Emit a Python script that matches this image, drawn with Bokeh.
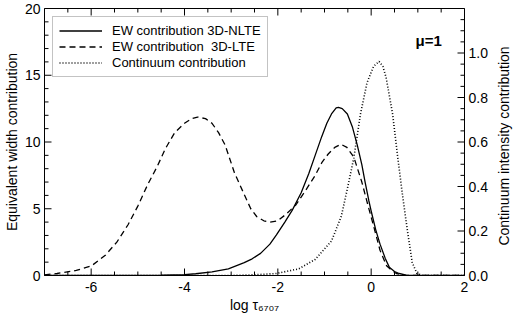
import math
from bokeh.plotting import figure
from bokeh.layouts import row
from bokeh.models import (Range1d, SingleIntervalTicker, PrintfTickFormatter, LinearAxis,
                          Legend, LegendItem, Label, Div)
from bokeh.embed import file_html
from bokeh.resources import INLINE

# ---- data ----
nlte_logtau = [-7.0, -5.0, -4.5, -4.0, -3.76, -3.41, -3.06, -2.72, -2.55, -2.37, -2.17, -2.03,
               -1.85, -1.69, -1.50, -1.34, -1.20, -1.06, -0.95, -0.85, -0.75, -0.70, -0.62,
               -0.51, -0.40, -0.30, -0.20, -0.13, -0.05, 0.01, 0.10, 0.19, 0.30, 0.39, 0.50,
               0.60, 0.75, 0.90, 2.0]
nlte_ew = [0.0, 0.0, 0.02, 0.07, 0.13, 0.27, 0.50, 0.96, 1.25, 1.66, 2.35, 3.05,
           4.0, 4.9, 6.2, 7.6, 9.0, 10.4, 11.4, 12.1, 12.55, 12.6, 12.5,
           12.1, 11.1, 9.8, 8.3, 7.0, 5.6, 4.68, 3.4, 2.35, 1.3, 0.61, 0.3,
           0.15, 0.03, 0.0, 0.0]

lte_logtau = [-7.0, -6.73, -6.32, -5.99, -5.69, -5.45, -5.21, -5.0, -4.79, -4.58, -4.41, -4.21,
              -4.0, -3.85, -3.72, -3.55, -3.41, -3.27, -3.13, -2.93, -2.72, -2.58, -2.45,
              -2.30, -2.17, -2.0, -1.82, -1.61, -1.40, -1.20, -1.05, -0.92, -0.78, -0.65,
              -0.52, -0.37, -0.20, -0.06, 0.05, 0.19, 0.33, 0.45, 0.54, 0.70, 0.90, 2.0]
lte_ew = [0.05, 0.15, 0.38, 0.73, 1.54, 2.5, 3.8, 5.2, 6.8, 8.2, 9.5, 10.7,
          11.4, 11.75, 11.87, 11.75, 11.4, 10.7, 9.78, 7.7, 6.07, 5.0, 4.4,
          4.1, 4.0, 4.1, 4.6, 5.3, 6.4, 7.5, 8.5, 9.1, 9.6, 9.83,
          9.6, 8.85, 7.0, 5.14, 3.74, 1.89, 0.73, 0.35, 0.15, 0.03, 0.0, 0.0]

cont_logtau = [-7.0, -3.0, -2.5, -2.03, -1.55, -1.20, -0.85, -0.64, -0.51, -0.37, -0.23, -0.09,
               0.05, 0.17, 0.25, 0.32, 0.46, 0.57, 0.67, 0.78, 0.88, 0.98, 1.1, 2.0]
cont_int = [0.0, 0.0, 0.003, 0.009, 0.03, 0.072, 0.155, 0.266, 0.39, 0.53, 0.725, 0.865,
            0.94, 0.962, 0.94, 0.89, 0.725, 0.53, 0.364, 0.197, 0.058, 0.009, 0.0, 0.0]

# tick positions (inward tick marks on all four sides)
x_major_ticks = [-6, -4, -2, 0]
x_minor_ticks = [-6.5, -5.5, -5.0, -4.5, -3.5, -3.0, -2.5, -1.5, -1.0, -0.5, 0.5, 1.0, 1.5]
y_major_ticks = [5, 10, 15]
y_minor_ticks = [1, 2, 3, 4, 6, 7, 8, 9, 11, 12, 13, 14, 16, 17, 18, 19]
r_major_ticks = [0.2, 0.4, 0.6, 0.8, 1.0]
r_minor_ticks = [0.05, 0.1, 0.15, 0.25, 0.3, 0.35, 0.45, 0.5, 0.55, 0.65, 0.7, 0.75,
                 0.85, 0.9, 0.95, 1.05, 1.1, 1.15]

legend_labels = ["EW contribution 3D-NLTE", "EW contribution  3D-LTE", "Continuum contribution"]
x_label = "log τ₆₇₀₇"
y_label_left = "Equivalent width contribution"
y_label_right = "Continuum intensity contribution"
mu_text = "μ=1"

FONT = "Liberation Sans"
FIG_W, FIG_H, DIV_W = 490, 315, 20
X0, X1, Y0, Y1, R0, R1 = -7, 2, 0, 20, 0, 1.2

p = figure(width=FIG_W, height=FIG_H, output_backend="svg", toolbar_location=None,
           x_range=Range1d(X0, X1), y_range=Range1d(Y0, Y1),
           min_border_left=0, min_border_right=0, min_border_top=8, min_border_bottom=0)
p.extra_y_ranges = {"right": Range1d(R0, R1)}
p.xgrid.visible = False
p.ygrid.visible = False
p.outline_line_color = "black"
p.outline_line_width = 1
p.background_fill_color = "white"
p.border_fill_color = "white"


def style_axis(ax):
    ax.major_tick_in = 0
    ax.major_tick_out = 0
    ax.minor_tick_in = 0
    ax.minor_tick_out = 0
    ax.major_tick_line_color = None
    ax.minor_tick_line_color = None
    ax.axis_line_color = "black"
    ax.major_label_text_font = FONT
    ax.major_label_text_font_size = "14px"
    ax.major_label_text_color = "black"
    ax.axis_label_text_font = FONT
    ax.axis_label_text_font_size = "14px"
    ax.axis_label_text_font_style = "normal"
    ax.axis_label_text_color = "black"


xax = p.xaxis[0]
xax.ticker = SingleIntervalTicker(interval=2)
xax.formatter = PrintfTickFormatter(format="%d")
style_axis(xax)
xax.major_label_standoff = 6
xax.axis_label = x_label
xax.axis_label_standoff = 2

yax = p.yaxis[0]
yax.ticker = SingleIntervalTicker(interval=5)
style_axis(yax)
yax.axis_label = y_label_left
yax.major_label_standoff = 4
yax.axis_label_standoff = 2

rax = LinearAxis(y_range_name="right", ticker=SingleIntervalTicker(interval=0.2),
                 formatter=PrintfTickFormatter(format="%.1f"))
style_axis(rax)
rax.major_label_standoff = 4
p.add_layout(rax, "right")

# inward tick marks: dash markers centred on the frame edges (outer half is clipped)
TICK_KW = dict(marker="dash", line_color="black", line_width=1)
p.scatter(x_major_ticks, [Y0] * len(x_major_ticks), size=14, angle=math.pi / 2, **TICK_KW)
p.scatter(x_major_ticks, [Y1] * len(x_major_ticks), size=14, angle=math.pi / 2, **TICK_KW)
p.scatter(x_minor_ticks, [Y0] * len(x_minor_ticks), size=8, angle=math.pi / 2, **TICK_KW)
p.scatter(x_minor_ticks, [Y1] * len(x_minor_ticks), size=8, angle=math.pi / 2, **TICK_KW)
p.scatter([X0] * len(y_major_ticks), y_major_ticks, size=14, **TICK_KW)
p.scatter([X0] * len(y_minor_ticks), y_minor_ticks, size=8, **TICK_KW)
p.scatter([X1] * len(r_major_ticks), r_major_ticks, size=14, y_range_name="right", **TICK_KW)
p.scatter([X1] * len(r_minor_ticks), r_minor_ticks, size=8, y_range_name="right", **TICK_KW)

r1 = p.line(nlte_logtau, nlte_ew, line_color="black", line_width=1.3)
r2 = p.line(lte_logtau, lte_ew, line_color="black", line_width=1.3, line_dash="6 4")
r3 = p.line(cont_logtau, cont_int, y_range_name="right", line_color="black",
            line_width=1.6, line_dash="1 2")

legend = Legend(items=[LegendItem(label=legend_labels[0], renderers=[r1]),
                       LegendItem(label=legend_labels[1], renderers=[r2]),
                       LegendItem(label=legend_labels[2], renderers=[r3])],
                location="top_left", margin=8, padding=6, spacing=1,
                glyph_width=43, glyph_height=11, label_height=11, label_standoff=10,
                label_text_font=FONT, label_text_font_size="13px", label_text_color="black",
                border_line_color="#888888", border_line_width=1,
                background_fill_color="white", background_fill_alpha=1)
p.add_layout(legend)

p.add_layout(Label(x=0.95, y=17.6, text=mu_text, text_font=FONT, text_font_size="15px",
                   text_font_style="bold", text_baseline="middle", text_color="black"))

right_label = Div(
    width=DIV_W, height=FIG_H,
    text=('<div style="position:relative;width:%dpx;height:%dpx;">'
          '<div style="position:absolute;left:9px;top:141px;'
          'transform:translate(-50%%,-50%%) rotate(-90deg);white-space:nowrap;'
          'font-family:\'Liberation Sans\';font-size:14px;color:black;">%s</div></div>')
         % (DIV_W, FIG_H, y_label_right))

layout = row(p, right_label)
open("out.html", "w").write(file_html(layout, INLINE))
